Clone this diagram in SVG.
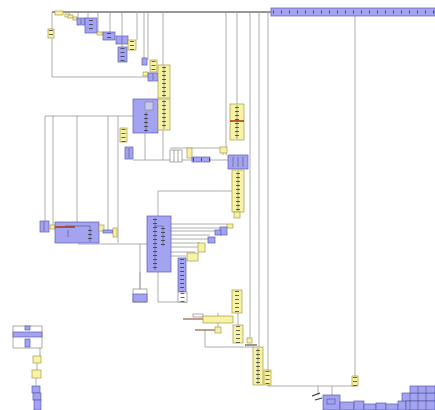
<svg xmlns="http://www.w3.org/2000/svg" width="435" height="410" viewBox="0 0 435 410">
<style>
.b{fill:#a3a3f2;stroke:#5c5cb0;stroke-width:0.7}
.y{fill:#f7f3a6;stroke:#a89a48;stroke-width:0.7}
.w{fill:#ffffff;stroke:#888;stroke-width:0.7}
.c{fill:none;stroke:#9a9a9a;stroke-width:0.8}
.d{fill:none;stroke:#333;stroke-width:1.2}
.t{fill:none;stroke:#333;stroke-width:4;stroke-dasharray:0.8 3.2}
.v{fill:none;stroke:#444;stroke-width:0.5}
.r{fill:none;stroke:#b03a10;stroke-width:1.6}
.br{fill:none;stroke:#7a4020;stroke-width:1}
.tb{fill:none;stroke:#333;stroke-width:3;stroke-dasharray:0.8 7.2}
</style>
<rect width="435" height="410" fill="#ffffff"/>
<g id="connectors">
<path class="d" d="M52,12H272"/>
<path class="c" d="M52,12V77H148"/>
<path class="c" d="M78,12V18M88,12V18M98,12V32M110,12V32M122,12V47M137,12V40M144,12V58M148,12V60M163,12V65"/>
<path class="c" d="M226,12V155M237,12V104M250,12V338M259,12V347M268,12V386H355M355,16V376"/>
<path class="c" d="M318,386V395M332,386V395"/>
<path class="c" d="M45,116H133M45,116V221M53,116V225M77,116V222M108,116V230M118,116V243"/>
<path class="c" d="M78,244H147M140,244V289"/>
<path class="c" d="M145,133V160M163,128V160M133,160H228M170,148H223M223,148V155"/>
<path class="c" d="M158,191H232M158,191V216"/>
<path class="c" d="M171,224H227M171,228H220M171,231H215M171,235H210M171,239H208M171,243H200M171,247H198M171,252H195M171,256H186"/>
<path class="c" d="M158,272V302H187M140,272V289"/>
<path class="c" d="M205,330V347H253M218,313V330M238,313V325"/>
<path class="c" d="M40,348V356M37,363V370M36,378V386"/>
<path class="br" d="M183,319H203M195,330H215"/>
<path class="d" d="M245,345H257M312,396L320,393M315,400L322,398"/>
</g>
<g id="topbar"><rect class="b" x="271" y="8" width="164" height="8"/><path class="tb" d="M273,12H435"/></g>
<g id="n1"><rect class="y" x="55" y="11" width="8" height="4"/></g>
<g id="n2"><rect class="y" x="65" y="14" width="5" height="3"/></g>
<g id="n3"><rect class="y" x="68" y="15" width="5" height="3"/></g>
<g id="n4"><rect class="y" x="73" y="17" width="4" height="3"/></g>
<g id="n5"><rect class="b" x="77" y="18" width="8" height="7"/><path class="v" d="M81,19V24"/></g>
<g id="n6"><rect class="b" x="85" y="18" width="12" height="15"/><path class="t" d="M91,20V32"/></g>
<g id="n7"><rect class="y" x="97" y="32" width="6" height="3"/></g>
<g id="n8"><rect class="b" x="103" y="32" width="12" height="8"/><path class="t" d="M109,33V40"/></g>
<g id="n9"><rect class="b" x="116" y="36" width="12" height="8"/><path class="v" d="M122,37V43"/></g>
<g id="n10"><rect class="b" x="118" y="47" width="9" height="15"/><path class="t" d="M122.5,48V62"/></g>
<g id="n11"><rect class="y" x="128" y="40" width="8" height="10"/><path class="t" d="M132,41V50"/></g>
<g id="n12"><rect class="y" x="48" y="29" width="6" height="9"/><path class="t" d="M51,30V38"/></g>
<g id="n13"><rect class="b" x="142" y="58" width="5" height="7"/></g>
<g id="n14"><rect class="y" x="150" y="60" width="7" height="12"/><path class="t" d="M153.5,61V72"/></g>
<g id="n15"><rect class="y" x="143" y="72" width="5" height="4"/></g>
<g id="n16"><rect class="b" x="148" y="73" width="10" height="8"/><path class="v" d="M153,74V80"/></g>
<g id="n17"><rect class="y" x="158" y="65" width="12" height="33"/><path class="v" d="M164,66V97"/><path class="t" d="M164,67V97"/></g>
<g id="n18"><rect class="b" x="133" y="99" width="25" height="34"/><rect class="w" x="145" y="102" width="8" height="8" fill-opacity="0.4"/><path class="v" d="M146,112V132"/><path class="t" d="M146,114V132"/></g>
<g id="n19"><rect class="y" x="158" y="99" width="12" height="31"/><path class="v" d="M164,100V129"/><path class="t" d="M164,101V129"/></g>
<g id="n20"><rect class="y" x="230" y="104" width="14" height="36"/><path class="v" d="M237,105V139"/><path class="t" d="M237,107V139"/><path class="r" d="M230,121H244"/></g>
<g id="n21"><rect class="y" x="120" y="128" width="7" height="14"/><path class="t" d="M123.5,129V142"/></g>
<g id="n22"><rect class="b" x="125" y="147" width="8" height="12"/><path class="v" d="M129,148V158"/></g>
<g id="n23"><rect class="w" x="170" y="150" width="12" height="12"/><path class="v" d="M174,150V162M178,150V162"/></g>
<g id="n24"><rect class="y" x="187" y="148" width="5" height="10"/></g>
<g id="n25"><rect class="b" x="192" y="157" width="18" height="5"/><path class="tb" d="M193,159.5H210"/></g>
<g id="n26"><rect class="y" x="220" y="147" width="7" height="6"/></g>
<g id="n27"><rect class="b" x="228" y="155" width="20" height="14"/><path class="v" d="M233,157V167M238,157V167M243,157V167"/></g>
<g id="n28"><rect class="y" x="232" y="170" width="12" height="42"/><path class="v" d="M238,171V211"/><path class="t" d="M238,173V211"/></g>
<g id="n29"><rect class="y" x="234" y="212" width="6" height="6"/></g>
<g id="n30"><rect class="b" x="40" y="221" width="9" height="11"/><path class="v" d="M44,222V231"/></g>
<g id="n31"><rect class="y" x="50" y="225" width="5" height="4"/></g>
<g id="n32"><rect class="b" x="55" y="222" width="44" height="21"/><path class="r" d="M55,227H75"/><path class="v" d="M65,226H90M68,230V237M90,226V242"/><path class="t" d="M90,230V242"/></g>
<g id="n33"><rect class="y" x="99" y="225" width="5" height="6"/></g>
<g id="n34"><rect class="b" x="103" y="230" width="10" height="3"/></g>
<g id="n35"><rect class="y" x="113" y="228" width="4" height="9"/></g>
<g id="n36"><rect class="b" x="147" y="216" width="24" height="56"/><path class="v" d="M155,218V270M163,226V246M155,226H163"/><path class="t" d="M155,219V270"/><path class="t" d="M163,228V246"/></g>
<g id="n37"><rect class="y" x="227" y="224" width="6" height="4"/></g>
<g id="n38"><rect class="b" x="220" y="227" width="7" height="8"/></g>
<g id="n39"><rect class="b" x="215" y="230" width="6" height="5"/></g>
<g id="n40"><rect class="b" x="208" y="237" width="7" height="6"/></g>
<g id="n41"><rect class="y" x="198" y="243" width="7" height="9"/></g>
<g id="n42"><rect class="y" x="187" y="253" width="11" height="8"/></g>
<g id="n43"><rect class="b" x="178" y="258" width="8" height="34"/><path class="t" d="M182,259V292"/></g>
<g id="n44"><rect class="w" x="178" y="292" width="9" height="10"/><path class="t" d="M182.5,293V302"/></g>
<g id="n45"><rect class="w" x="133" y="289" width="14" height="13"/><rect class="b" x="133" y="294" width="14" height="8"/></g>
<g id="n46"><rect class="y" x="232" y="290" width="10" height="23"/><path class="t" d="M237,291V313"/></g>
<g id="n47"><rect class="w" x="193" y="314" width="10" height="3"/><rect class="y" x="203" y="316" width="30" height="7"/></g>
<g id="n48"><rect class="y" x="215" y="327" width="6" height="6"/></g>
<g id="n49"><rect class="y" x="233" y="325" width="10" height="18"/><path class="t" d="M238,326V343"/></g>
<g id="n50"><rect class="y" x="247" y="338" width="5" height="5"/></g>
<g id="n51"><rect class="y" x="253" y="347" width="10" height="38"/><path class="v" d="M258,348V384"/><path class="t" d="M258,350V385"/></g>
<g id="n52"><rect class="y" x="264" y="370" width="7" height="15"/><path class="t" d="M267.5,371V385"/></g>
<g id="n53"><rect class="y" x="352" y="376" width="6" height="10"/><path class="t" d="M355,377V386"/></g>
<g id="n54"><rect class="b" x="323" y="395" width="17" height="15"/><rect class="b" x="327" y="399" width="8" height="5"/></g>
<g id="n55"><rect class="b" x="340" y="402" width="14" height="8"/><rect class="b" x="354" y="401" width="10" height="9"/><rect class="b" x="364" y="404" width="12" height="6"/><rect class="b" x="376" y="403" width="10" height="7"/><rect class="b" x="386" y="404" width="12" height="6"/><rect class="b" x="398" y="401" width="8" height="9"/></g>
<g id="n56"><rect class="b" x="402" y="393" width="33" height="8"/><rect class="b" x="410" y="386" width="25" height="7"/><rect class="b" x="406" y="401" width="29" height="9"/><path class="v" d="M410,393V410M418,386V410M426,386V410"/></g>
<g id="n57"><rect class="w" x="13" y="326" width="29" height="22"/><rect class="b" x="25" y="326" width="5" height="4"/><rect class="b" x="13" y="332" width="29" height="5"/><rect class="b" x="25" y="339" width="5" height="8"/></g>
<g id="n58"><rect class="y" x="33" y="356" width="8" height="7"/></g>
<g id="n59"><rect class="y" x="32" y="370" width="9" height="8"/></g>
<g id="n60"><rect class="b" x="32" y="386" width="8" height="7"/><rect class="b" x="33" y="393" width="8" height="7"/><rect class="b" x="34" y="400" width="7" height="10"/></g>
</svg>
